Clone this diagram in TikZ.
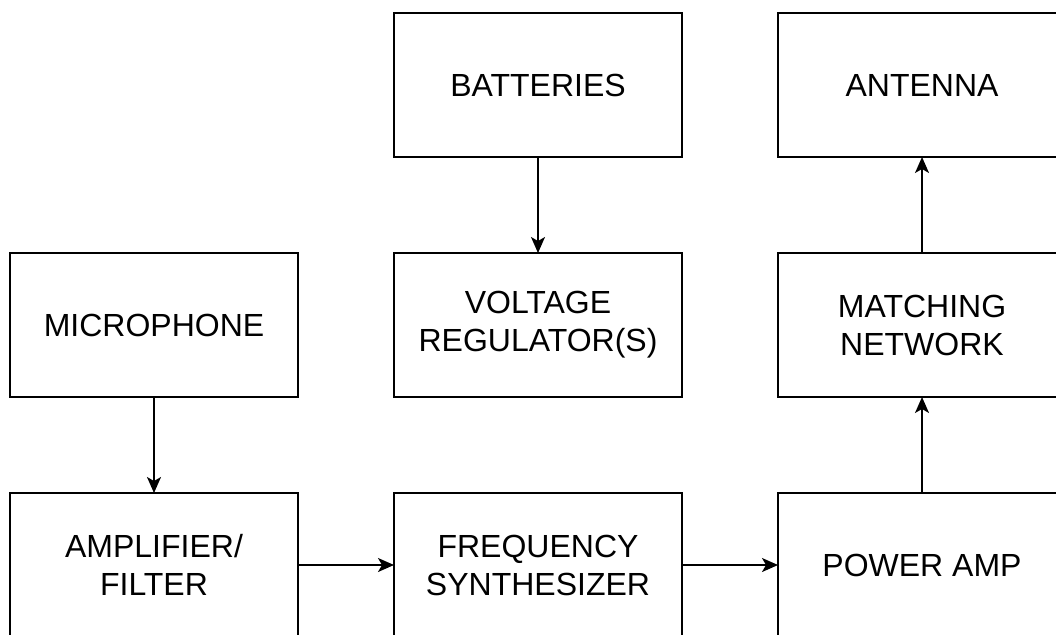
\documentclass[tikz,border=0pt]{standalone}
\usepackage{fontspec}
\setmainfont{Liberation Sans}
\usetikzlibrary{arrows.meta}
\tikzset{
  blk/.style={draw=black, line width=1.6pt, minimum width=288pt, minimum height=144pt,
    inner sep=0pt, outer sep=0pt, align=center, font=\fontsize{32}{38}\selectfont},
  conn/.style={line width=1.6pt, -{Stealth[length=16pt,width=14pt,inset=4pt]}}
}
\begin{document}
\begin{tikzpicture}[x=1pt,y=-1pt]
\useasboundingbox (0,0) rectangle (1056,634);
\clip (0,0) rectangle (1056,634);
\node[blk] (mic) at (154,325) {MICROPHONE};
\node[blk] (amp) at (154,565) {AMPLIFIER/\\FILTER};
\node[blk] (bat) at (538,85) {BATTERIES};
\node[blk] (vr) at (538,325) {VOLTAGE\\REGULATOR(S)};
\node[blk] (fs) at (538,565) {FREQUENCY\\SYNTHESIZER};
\node[blk] (ant) at (922,85) {ANTENNA};
\node[blk] (mn) at (922,325) {MATCHING\\NETWORK};
\node[blk] (pa) at (922,565) {POWER AMP};
\draw[conn] (mic) -- (amp);
\draw[conn] (bat) -- (vr);
\draw[conn] (amp) -- (fs);
\draw[conn] (fs) -- (pa);
\draw[conn] (pa) -- (mn);
\draw[conn] (mn) -- (ant);
\end{tikzpicture}
\end{document}
